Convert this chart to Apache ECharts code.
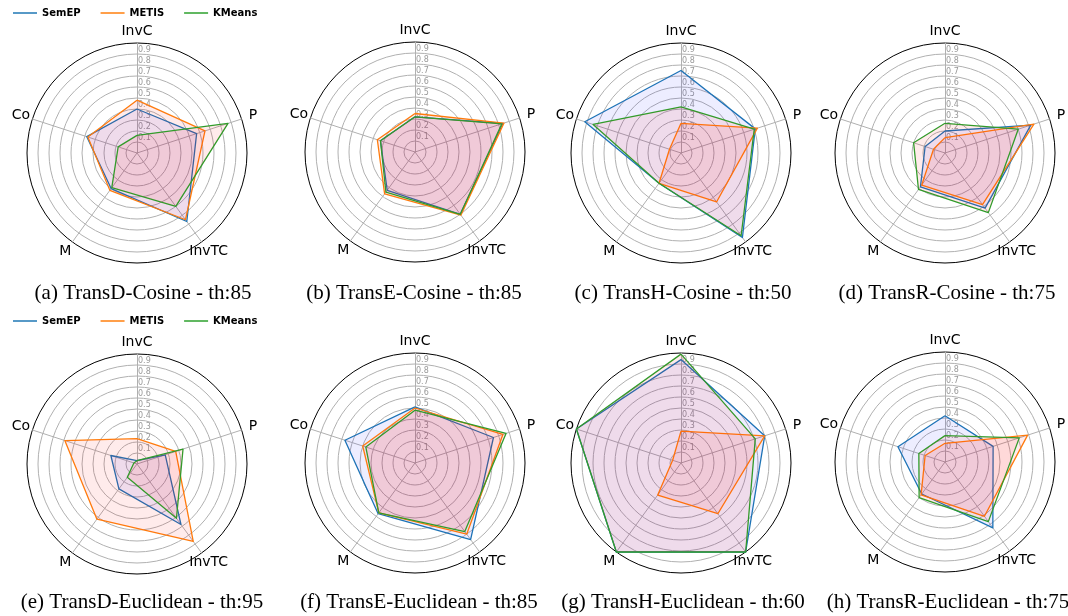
<!DOCTYPE html>
<html lang="en">

<head>
    <meta charset="UTF-8" />
    <title>Radar</title>
    <script src="https://cdn.jsdelivr.net/npm/echarts@6.0.0/dist/echarts.min.js"></script>
</head>

<body style="margin:0">
    <div id="main" style="width: 1068px; height: 616px;"></div>

    <script>
        // axis order as read clockwise from the top
        const axes = ['InvC', 'P', 'InvTC', 'M', 'Co'];
        const methods = ['SemEP', 'METIS', 'KMeans'];
        const titles = [
            '(a) TransD-Cosine - th:85', '(b) TransE-Cosine - th:85',
            '(c) TransH-Cosine - th:50', '(d) TransR-Cosine - th:75',
            '(e) TransD-Euclidean - th:95', '(f) TransE-Euclidean - th:85',
            '(g) TransH-Euclidean - th:60', '(h) TransR-Euclidean - th:75'
        ];
        const tickLabels = ['0.1', '0.2', '0.3', '0.4', '0.5', '0.6', '0.7', '0.8', '0.9'];

        // values per chart: InvC, P, InvTC, M, Co
        const semep = [
            [0.40, 0.57, 0.77, 0.40, 0.48],
            [0.32, 0.84, 0.70, 0.43, 0.33],
            [0.75, 0.71, 0.95, 0.34, 0.92],
            [0.20, 0.82, 0.62, 0.38, 0.19],
            [0.03, 0.27, 0.68, 0.28, 0.25],
            [0.51, 0.75, 0.86, 0.57, 0.67],
            [0.94, 0.80, 1.00, 1.00, 1.00],
            [0.42, 0.46, 0.74, 0.36, 0.45]
        ];
        const metis = [
            [0.48, 0.65, 0.75, 0.42, 0.47],
            [0.35, 0.85, 0.71, 0.47, 0.36],
            [0.27, 0.73, 0.55, 0.34, 0.11],
            [0.14, 0.85, 0.58, 0.36, 0.11],
            [0.23, 0.37, 0.87, 0.62, 0.69],
            [0.50, 0.84, 0.80, 0.56, 0.50],
            [0.29, 0.80, 0.57, 0.36, 0.08],
            [0.17, 0.79, 0.61, 0.37, 0.19]
        ];
        const kmeans = [
            [0.16, 0.87, 0.60, 0.39, 0.18],
            [0.32, 0.83, 0.70, 0.45, 0.33],
            [0.42, 0.70, 0.93, 0.34, 0.84],
            [0.27, 0.70, 0.67, 0.41, 0.30],
            [0.03, 0.44, 0.61, 0.15, 0.03],
            [0.48, 0.87, 0.77, 0.56, 0.47],
            [0.99, 0.71, 1.00, 1.00, 1.00],
            [0.24, 0.71, 0.67, 0.40, 0.25]
        ];

        const lineColors = ['#1f77b4', '#ff7f0e', '#2ca02c'];
        const fillColors = ['rgba(0,0,255,0.1)', 'rgba(255,0,0,0.11)', 'rgba(255,0,0,0.11)'];

        // echarts goes counter-clockwise, so reorder: InvC, Co, M, InvTC, P
        const order = [0, 4, 3, 2, 1];
        const reorder = arr => order.map(i => arr[i]);

        const centers = [
            [137, 153], [415, 152], [681, 153], [945, 153],
            [137, 464], [415, 463], [681, 463], [945, 462]
        ];
        const titleX = [138, 409, 678, 942, 137, 414, 678, 943];
        const titleY = [278, 278, 278, 278, 587, 587, 587, 587];

        const ringColors = Array(10).fill('#b0b0b0').concat(['#000']);

        const radars = centers.map(c => ({
            center: c,
            radius: 110,
            startAngle: 90,
            shape: 'circle',
            splitNumber: 10,
            nameGap: 12,
            axisName: {
                color: '#000', fontSize: 14, fontFamily: 'DejaVu Sans',
                align: 'center', verticalAlign: 'middle'
            },
            indicator: reorder(axes).map((name, i) => ({
                name: name,
                min: 0,
                max: 1,
                axisLabel: i === 0 ? {
                    show: true,
                    color: '#999',
                    fontSize: 8,
                    fontFamily: 'DejaVu Sans',
                    margin: -1,
                    align: 'left',
                    verticalAlign: 'bottom',
                    formatter: (v, idx) => tickLabels[idx - 1] || ''
                } : { show: false }
            })),
            axisLine: { lineStyle: { color: '#b0b0b0', width: 1 } },
            splitLine: { lineStyle: { color: ringColors, width: 1 } },
            splitArea: { show: false },
            axisTick: { show: false },
            axisLabel: { show: false }
        }));

        const allData = [semep, metis, kmeans];
        const series = centers.map((c, k) => ({
            type: 'radar',
            radarIndex: k,
            symbol: 'none',
            silent: true,
            data: methods.map((m, j) => ({
                name: m,
                value: reorder(allData[j][k]),
                itemStyle: { color: lineColors[j] },
                lineStyle: { color: lineColors[j], width: 1.3 },
                areaStyle: { color: fillColors[j] }
            }))
        }));

        const titleOpts = titles.map((t, k) => ({
            text: t,
            left: titleX[k],
            top: titleY[k],
            textAlign: 'center',
            textStyle: { fontFamily: 'Liberation Serif', fontSize: 21, fontWeight: 'normal', color: '#000' }
        }));

        const legendBase = {
            data: methods,
            left: 8,
            icon: 'rect',
            itemWidth: 24,
            itemHeight: 1.5,
            itemGap: 20,
            itemStyle: { borderWidth: 0 },
            textStyle: { fontFamily: 'DejaVu Sans', fontWeight: 'bold', fontSize: 10, color: '#000' }
        };

        const myChart = echarts.init(document.getElementById('main'));
        myChart.setOption({
            animation: false,
            title: titleOpts,
            legend: [
                Object.assign({ top: 3 }, legendBase),
                Object.assign({ top: 311 }, legendBase)
            ],
            radar: radars,
            series: series
        });
    </script>
</body>

</html>
